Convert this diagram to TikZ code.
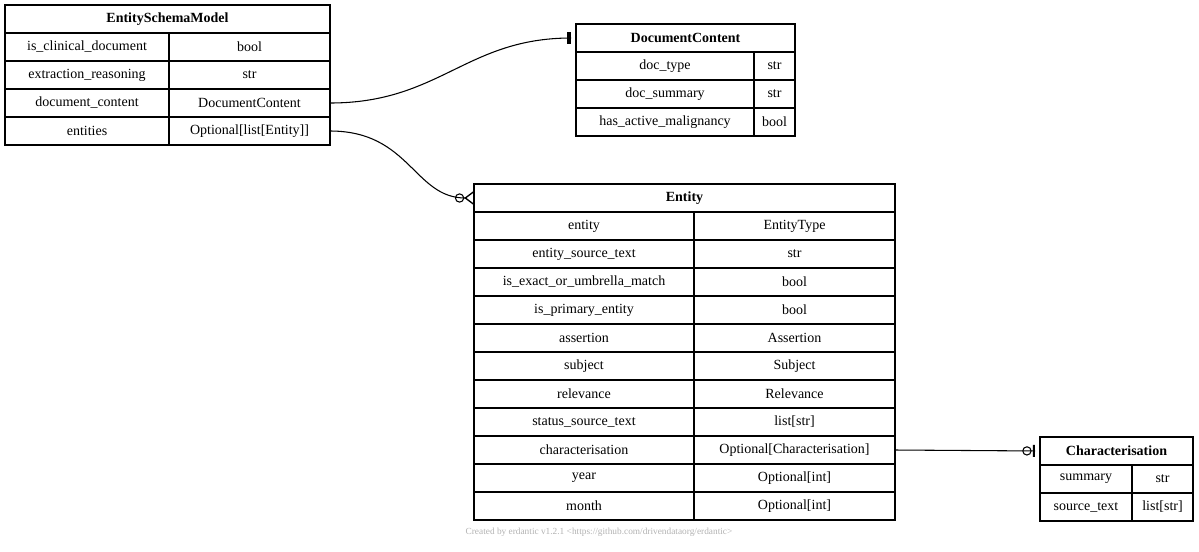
\documentclass[tikz,border=0pt]{standalone}
\usepackage{fontspec}
\setmainfont{Liberation Serif}
\usetikzlibrary{arrows.meta}

\begin{document}
\begin{tikzpicture}[
      x=0.75pt, y=-0.75pt,
      every node/.style={font=\fontsize{10.5}{12}\selectfont, inner sep=0pt, outer sep=0pt},
      cell/.style={draw, line width=0.8pt, minimum height=21pt, anchor=north west},
      head/.style={cell, font=\fontsize{10.5}{12}\selectfont\bfseries},
      link/.style={line width=0.8pt}
    ]
    \useasboundingbox (0,0) rectangle (1199,551);

    % EntitySchemaModel
    \node[head, minimum width=243.75pt] (ESM) at (5,5) {EntitySchemaModel};
    \foreach \n/\a/\b [count=\i] in {
        isclin/is\_clinical\_document/bool,
        reason/extraction\_reasoning/str,
        doccont/document\_content/DocumentContent,
        ents/entities/Optional[list[Entity]]} {
      \node[cell, minimum width=123pt] (ESM-\n-k) at (5,5+28*\i) {\a};
      \node[cell, minimum width=120.75pt] (ESM-\n) at (169,5+28*\i) {\b};
    }

    % DocumentContent
    \node[head, minimum width=164.25pt] (DC) at (576,24) {DocumentContent};
    \foreach \n/\a/\b [count=\i] in {
        type/doc\_type/str,
        summ/doc\_summary/str,
        malig/has\_active\_malignancy/bool} {
      \node[cell, minimum width=133.5pt] (DC-\n-k) at (576,24+28*\i) {\a};
      \node[cell, minimum width=30.75pt] (DC-\n) at (754,24+28*\i) {\b};
    }

    % Entity
    \node[head, minimum width=315.75pt] (E) at (474,184) {Entity};
    \foreach \n/\a/\b [count=\i] in {
        ent/entity/EntityType,
        src/entity\_source\_text/str,
        exact/is\_exact\_or\_umbrella\_match/bool,
        prim/is\_primary\_entity/bool,
        ass/assertion/Assertion,
        subj/subject/Subject,
        rel/relevance/Relevance,
        stat/status\_source\_text/list[str],
        char/characterisation/Optional[Characterisation],
        year/year/Optional[int],
        month/month/Optional[int]} {
      \node[cell, minimum width=165pt] (E-\n-k) at (474,184+28*\i) {\a};
      \node[cell, minimum width=150.75pt] (E-\n) at (694,184+28*\i) {\b};
    }

    % Characterisation
    \node[head, minimum width=114.75pt] (CH) at (1040,437) {Characterisation};
    \foreach \n/\a/\b [count=\i] in {
        summ/summary/str,
        src/source\_text/list[str]} {
      \node[cell, minimum width=69pt] (CH-\n-k) at (1040,437+28*\i) {\a};
      \node[cell, minimum width=45.75pt] (CH-\n) at (1132,437+28*\i) {\b};
    }

    % relations
    \draw[link, -{Bar[width=9pt,line width=1.5pt]Bar[width=9pt,line width=1.5pt] Bar[width=0pt,sep=3pt]}]
      (ESM-doccont.east) .. controls +(110,0) and +(-110,0) .. (DC.west);
    \draw[link, -{Circle[open,length=7pt,width=7pt,sep=0pt]Straight Barb[reversed,length=6pt,width=9pt,line width=1pt]}]
      (ESM-ents.east) .. controls +(80,0) and +(-60,0) .. (E.west);
    \draw[link, -{Circle[open,length=7pt,width=7pt,sep=1pt]Bar[width=9pt,line width=1.5pt] Bar[width=0pt,sep=3pt]}]
      (E-char.east) -- (CH.west);

    \node[font=\fontsize{7}{8}\selectfont, text=gray!60] (credit) at (599,532)
      {Created by erdantic v1.2.1 <https://github.com/drivendataorg/erdantic>};
  \end{tikzpicture}
\end{document}
